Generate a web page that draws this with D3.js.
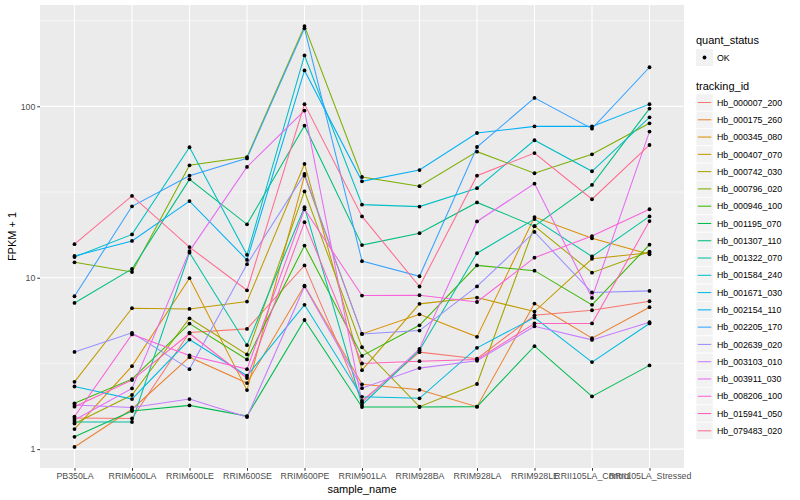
<!DOCTYPE html>
<html>
<head>
<meta charset="utf-8">
<script src="https://cdn.jsdelivr.net/npm/d3@7"></script>
<style>
  body { margin: 0; background: #fff; }
  svg { font-family: "Liberation Sans", Arial, sans-serif; }
</style>
</head>
<body>
<svg id="chart" width="800" height="500"></svg>
<script>
// sample names on the x axis
const samples = ['PB350LA', 'RRIM600LA', 'RRIM600LE', 'RRIM600SE', 'RRIM600PE', 'RRIM901LA',
  'RRIM928BA', 'RRIM928LA', 'RRIM928LE', 'RRII105LA_Control', 'RRII105LA_Stressed'];

// FPKM + 1 per tracking id, one value per sample
const Hb_000007_200 = [1.52, 1.51, 4.79, 5.03, 11.8, 1.91, 3.68, 3.37, 6.04, 6.46, 7.29];
const Hb_000175_260 = [1.03, 1.71, 3.44, 2.43, 9.0, 2.39, 2.22, 1.77, 7.07, 4.44, 6.73];
const Hb_000345_080 = [1.31, 3.05, 9.94, 2.21, 39.4, 4.70, 6.12, 4.52, 22.6, 17.0, 13.7];
const Hb_000407_070 = [2.47, 6.64, 6.58, 7.26, 46.1, 2.89, 7.04, 7.66, 6.35, 12.9, 14.0];
const Hb_000742_030 = [1.41, 2.07, 5.8, 3.57, 31.9, 3.93, 1.77, 2.40, 20.0, 10.7, 14.2];
const Hb_000796_020 = [12.3, 10.8, 45.3, 50.6, 294, 38.7, 34.2, 54.4, 40.7, 52.5, 79.6];
const Hb_000946_100 = [1.85, 2.56, 5.4, 3.34, 15.4, 3.50, 5.28, 11.8, 11.0, 6.95, 15.6];
const Hb_001195_070 = [1.18, 1.67, 1.80, 1.56, 5.67, 1.76, 1.76, 1.77, 3.99, 2.03, 3.08];
const Hb_001307_110 = [7.13, 11.25, 37.5, 20.5, 77.1, 15.5, 18.2, 27.5, 20.0, 34.8, 97];
const Hb_001322_070 = [1.44, 1.44, 14.0, 4.04, 25.8, 1.81, 3.78, 13.9, 22.0, 13.3, 22.8];
const Hb_001584_240 = [13.2, 17.9, 57.7, 13.6, 198, 26.7, 26.0, 33.3, 63.4, 41.8, 86.3];
const Hb_001671_030 = [2.32, 1.96, 4.36, 2.68, 6.95, 2.02, 1.98, 3.90, 5.86, 3.22, 5.41];
const Hb_002154_110 = [13.4, 16.4, 28.0, 12.7, 162, 36.5, 42.5, 69.9, 76.4, 76.4, 103];
const Hb_002205_170 = [7.8, 26.1, 39.4, 49.7, 285, 12.5, 10.2, 57.9, 112, 74.1, 169];
const Hb_002639_020 = [3.69, 4.77, 2.93, 12.0, 40.3, 4.70, 4.92, 8.9, 18.5, 8.2, 8.38];
const Hb_003103_010 = [1.81, 1.75, 1.96, 1.54, 8.9, 2.27, 2.97, 3.28, 5.21, 4.34, 5.5];
const Hb_003911_030 = [1.48, 2.26, 14.3, 44.3, 94.4, 1.87, 3.85, 21.3, 35.4, 7.63, 71.2];
const Hb_008206_100 = [1.55, 4.67, 3.52, 2.93, 25.1, 7.87, 7.91, 7.22, 13.1, 17.5, 25.1];
const Hb_015941_050 = [1.77, 2.53, 4.73, 2.6, 21.1, 3.16, 3.26, 3.33, 5.41, 5.41, 21.4];
const Hb_079483_020 = [15.7, 30.0, 15.1, 8.45, 103, 22.8, 8.89, 39.4, 53.4, 28.7, 59.5];

const trackingIds = ['Hb_000007_200', 'Hb_000175_260', 'Hb_000345_080', 'Hb_000407_070', 'Hb_000742_030',
  'Hb_000796_020', 'Hb_000946_100', 'Hb_001195_070', 'Hb_001307_110', 'Hb_001322_070', 'Hb_001584_240',
  'Hb_001671_030', 'Hb_002154_110', 'Hb_002205_170', 'Hb_002639_020', 'Hb_003103_010', 'Hb_003911_030',
  'Hb_008206_100', 'Hb_015941_050', 'Hb_079483_020'];
const seriesValues = [Hb_000007_200, Hb_000175_260, Hb_000345_080, Hb_000407_070, Hb_000742_030,
  Hb_000796_020, Hb_000946_100, Hb_001195_070, Hb_001307_110, Hb_001322_070, Hb_001584_240,
  Hb_001671_030, Hb_002154_110, Hb_002205_170, Hb_002639_020, Hb_003103_010, Hb_003911_030,
  Hb_008206_100, Hb_015941_050, Hb_079483_020];

const quantStatus = ['OK'];

// ggplot default hue palette for 20 levels
const palette = ['#F8766D', '#EA8331', '#D89000', '#C09B00', '#A3A500', '#7CAE00', '#39B600', '#00BB4E',
  '#00BF7D', '#00C1A3', '#00BFC4', '#00BAE0', '#00B0F6', '#35A2FF', '#9590FF', '#C77CFF', '#E76BF3',
  '#FA62DB', '#FF62BC', '#FF6C91'];

const series = trackingIds.map((id, i) => ({
  id,
  values: seriesValues[i].map((v, j) => ({ sample: samples[j], value: v }))
}));

const svg = d3.select('#chart');
const margin = { top: 5, right: 116, bottom: 32, left: 40 };
const width = 800, height = 500;
const innerWidth = width - margin.left - margin.right;
const innerHeight = height - margin.top - margin.bottom;

const g = svg.append('g').attr('transform', `translate(${margin.left},${margin.top})`);

// panel background
g.append('rect')
  .attr('width', innerWidth)
  .attr('height', innerHeight)
  .attr('fill', '#EBEBEB');

const xScale = d3.scalePoint()
  .domain(samples)
  .range([0, innerWidth])
  .padding(0.6);

// log scale with 5% expansion like ggplot
const allVals = seriesValues.flat();
const lo = Math.log10(d3.min(allVals)), hi = Math.log10(d3.max(allVals));
const pad = (hi - lo) * 0.05;
const yScale = d3.scaleLog()
  .domain([Math.pow(10, lo - pad), Math.pow(10, hi + pad)])
  .range([innerHeight, 0]);

const majorTicks = [1, 10, 100];
const minorTicks = [Math.pow(10, 0.5), Math.pow(10, 1.5), Math.pow(10, 2.5)];

// grid lines
g.append('g').selectAll('line')
  .data(minorTicks.filter(t => t < yScale.domain()[1]))
  .join('line')
  .attr('x1', 0).attr('x2', innerWidth)
  .attr('y1', d => yScale(d)).attr('y2', d => yScale(d))
  .attr('stroke', '#fff').attr('stroke-width', 0.55);

g.append('g').selectAll('line')
  .data(majorTicks)
  .join('line')
  .attr('x1', 0).attr('x2', innerWidth)
  .attr('y1', d => yScale(d)).attr('y2', d => yScale(d))
  .attr('stroke', '#fff').attr('stroke-width', 1.1);

g.append('g').selectAll('line')
  .data(samples)
  .join('line')
  .attr('x1', d => xScale(d)).attr('x2', d => xScale(d))
  .attr('y1', 0).attr('y2', innerHeight)
  .attr('stroke', '#fff').attr('stroke-width', 1.1);

// lines
const line = d3.line()
  .x(d => xScale(d.sample))
  .y(d => yScale(d.value));

g.append('g')
  .attr('class', 'lines')
  .selectAll('path')
  .data(series)
  .join('path')
  .attr('d', d => line(d.values))
  .attr('fill', 'none')
  .attr('stroke', (d, i) => palette[i])
  .attr('stroke-width', 1.05);

// points
g.append('g')
  .attr('class', 'points')
  .selectAll('circle')
  .data(series.flatMap(s => s.values))
  .join('circle')
  .attr('cx', d => xScale(d.sample))
  .attr('cy', d => yScale(d.value))
  .attr('r', 1.9)
  .attr('fill', '#000');

// x axis
const xAxis = g.append('g')
  .attr('transform', `translate(0,${innerHeight})`)
  .call(d3.axisBottom(xScale).tickSize(2.7).tickPadding(2))
  .attr('font-size', 8.8)
  .attr('font-family', '"Liberation Sans", Arial, sans-serif');
xAxis.select('.domain').remove();
xAxis.selectAll('.tick line').attr('stroke', '#333').attr('stroke-width', 1);
xAxis.selectAll('text').attr('fill', '#4D4D4D');

// y axis
const yAxis = g.append('g')
  .call(d3.axisLeft(yScale).tickValues(majorTicks).tickFormat(d3.format('d')).tickSize(2.7).tickPadding(2))
  .attr('font-size', 8.8)
  .attr('font-family', '"Liberation Sans", Arial, sans-serif');
yAxis.select('.domain').remove();
yAxis.selectAll('.tick line').attr('stroke', '#333').attr('stroke-width', 1);
yAxis.selectAll('text').attr('fill', '#4D4D4D');

// axis titles
svg.append('text')
  .attr('x', margin.left + innerWidth / 2)
  .attr('y', 493)
  .attr('text-anchor', 'middle')
  .style('font-size', '11px')
  .text('sample_name');

svg.append('text')
  .attr('transform', `translate(16,${margin.top + innerHeight / 2}) rotate(-90)`)
  .attr('text-anchor', 'middle')
  .style('font-size', '11px')
  .text('FPKM + 1');

// legends
const legend = svg.append('g').attr('transform', 'translate(696,0)');

legend.append('text')
  .attr('x', 0).attr('y', 44)
  .style('font-size', '11px')
  .text('quant_status');

const qs = legend.append('g').selectAll('g')
  .data(quantStatus)
  .join('g')
  .attr('transform', (d, i) => `translate(0,${49 + i * 17.3})`);
qs.append('rect').attr('width', 17).attr('height', 17).attr('fill', '#F2F2F2');
qs.append('circle').attr('cx', 8.5).attr('cy', 8.5).attr('r', 1.9).attr('fill', '#000');
qs.append('text').attr('x', 21).attr('y', 11.7).style('font-size', '8.8px').text(d => d);

legend.append('text')
  .attr('x', 0).attr('y', 90)
  .style('font-size', '11px')
  .text('tracking_id');

const keys = legend.append('g').selectAll('g')
  .data(trackingIds)
  .join('g')
  .attr('transform', (d, i) => `translate(0,${94 + i * 17.28})`);
keys.append('rect').attr('width', 17).attr('height', 17).attr('fill', '#F2F2F2')
  .attr('stroke', '#fff').attr('stroke-width', 0.5);
keys.append('line')
  .attr('x1', 1.7).attr('x2', 15.3)
  .attr('y1', 8.5).attr('y2', 8.5)
  .attr('stroke', (d, i) => palette[i])
  .attr('stroke-width', 1.05);
keys.append('text').attr('x', 21).attr('y', 11.7).style('font-size', '8.8px').text(d => d);
</script>
</body>
</html>
